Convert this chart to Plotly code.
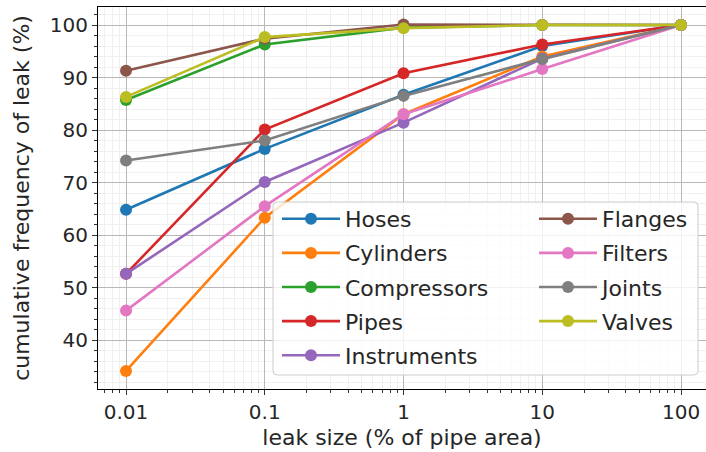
import plotly.graph_objects as go

# leak sizes (% of pipe area) and cumulative leak frequency (%) per equipment type
leak_size = [0.01, 0.1, 1, 10, 100]
tick_text = ["0.01", "0.1", "1", "10", "100"]

hoses = [64.8, 76.4, 86.7, 96.0, 100.0]
cylinders = [34.1, 63.3, 83.0, 94.0, 100.0]
compressors = [85.7, 96.3, 99.5, 100.0, 100.0]
pipes = [52.6, 80.1, 90.8, 96.3, 100.0]
instruments = [52.6, 70.1, 81.4, 93.6, 100.0]
flanges = [91.3, 97.4, 100.1, 100.0, 100.0]
filters = [45.6, 65.5, 83.0, 91.6, 100.0]
joints = [74.2, 78.0, 86.5, 93.5, 100.0]
valves = [86.3, 97.7, 99.4, 100.0, 100.0]

names = ["Hoses", "Cylinders", "Compressors", "Pipes", "Instruments",
         "Flanges", "Filters", "Joints", "Valves"]
series = [hoses, cylinders, compressors, pipes, instruments,
          flanges, filters, joints, valves]
colors = ["#1f77b4", "#ff7f0e", "#2ca02c", "#d62728", "#9467bd",
          "#8c564b", "#e377c2", "#7f7f7f", "#bcbd22"]

W, H = 706, 452
L, R, T, B = 98, 0, 7, 63
pw, ph = W - L - R, H - T - B


def px_x(p):
    return (p - L) / pw


def px_y(p):
    return (H - B - p) / ph


fig = go.Figure()
for i, (name, vals, col) in enumerate(zip(names, series, colors)):
    fig.add_trace(go.Scatter(
        x=leak_size, y=vals, name=name, mode="lines+markers",
        line=dict(color=col, width=2.6),
        marker=dict(color=col, size=12),
        legend="legend" if i < 5 else "legend2",
        legendgroup=name,
    ))

# rounded, semi-transparent legend frame spanning both columns
x0, x1 = px_x(273), px_x(698)
y0, y1 = px_y(375), px_y(202)
rx, ry = 4 / pw, 4 / ph
frame = (f"M{x0+rx},{y0} L{x1-rx},{y0} Q{x1},{y0} {x1},{y0+ry} "
         f"L{x1},{y1-ry} Q{x1},{y1} {x1-rx},{y1} L{x0+rx},{y1} "
         f"Q{x0},{y1} {x0},{y1-ry} L{x0},{y0+ry} Q{x0},{y0} {x0+rx},{y0} Z")
fig.add_shape(type="path", path=frame, xref="paper", yref="paper",
              fillcolor="rgba(255,255,255,0.8)",
              line=dict(color="#cccccc", width=1), layer="above")

font = dict(family="DejaVu Sans", color="#262626")
legend_common = dict(
    bgcolor="rgba(0,0,0,0)", borderwidth=0,
    font=dict(family="DejaVu Sans", size=22, color="#262626"),
    tracegroupgap=2.5, itemwidth=58, xanchor="left", yanchor="top",
)

fig.update_layout(
    width=W, height=H,
    margin=dict(l=L, r=R, t=T, b=B),
    paper_bgcolor="white", plot_bgcolor="white",
    font=font,
    legend=dict(x=px_x(277), y=px_y(198), **legend_common),
    legend2=dict(x=px_x(534), y=px_y(198), **legend_common),
)

axis_common = dict(
    showline=True, linecolor="black", linewidth=1.2, mirror=True,
    ticks="outside", ticklen=5, tickwidth=1.2, tickcolor="#333333",
    showgrid=True, gridcolor="#b8b8b8", gridwidth=1,
    zeroline=False,
    tickfont=dict(family="DejaVu Sans", size=20, color="#262626"),
)

fig.update_xaxes(
    type="log", range=[-2.202, 2.18],
    tickvals=leak_size, ticktext=tick_text,
    minor=dict(dtick="D1", ticks="outside", ticklen=3, tickcolor="#333333",
               showgrid=True, gridcolor="#f0f0f0", gridwidth=1),
    title=dict(text="leak size (% of pipe area)",
               font=dict(family="DejaVu Sans", size=22, color="#262626"),
               standoff=6),
    **axis_common,
)
fig.update_yaxes(
    range=[30.67, 103.43], dtick=10, tick0=0,
    minor=dict(dtick=2, ticks="outside", ticklen=3, tickcolor="#333333",
               showgrid=True, gridcolor="#f0f0f0", gridwidth=1),
    title=dict(text="cumulative frequency of leak (%)",
               font=dict(family="DejaVu Sans", size=22, color="#262626"),
               standoff=14),
    **axis_common,
)

fig.write_html("out.html")
